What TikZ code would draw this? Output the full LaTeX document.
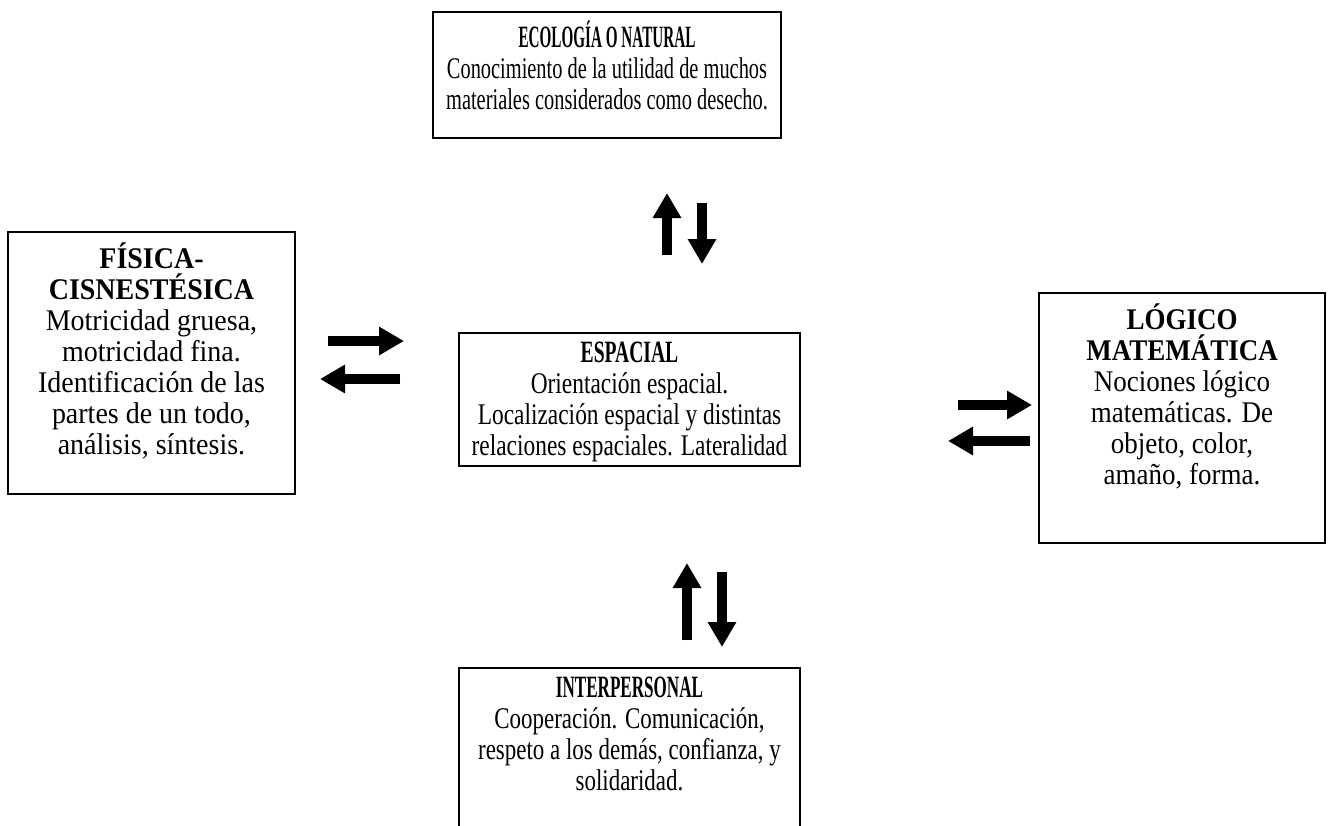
\documentclass[tikz,border=0pt]{standalone}
\usepackage{fontspec}
\setmainfont{Liberation Serif}
\newfontfamily\titfont{Liberation Serif Bold}[FakeStretch=0.72]
\newfontfamily\titfontb{Liberation Serif Bold}[FakeStretch=0.81]
\usetikzlibrary{arrows.meta,positioning}
\newcommand{\tit}[1]{{\fontsize{31}{31}\titfont #1}}
\newcommand{\titb}[1]{{\fontsize{31}{31}\titfontb #1}}

\begin{document}
\begin{tikzpicture}[line cap=butt,line join=miter,x=1pt,y=-1pt,
		marco/.style={draw=black,line width=1.6pt,inner sep=0pt},
		texto/.style={align=center,inner sep=0pt,anchor=north,transform shape,
			font=\fontsize{30}{31}\selectfont},
		flecha/.style={line width=10pt,-{Triangle[width=27pt,length=25pt]}}]
	\useasboundingbox (0,0) rectangle (1333,825);
	\clip (0,0) rectangle (1333,825);
	% cajas
	\node[marco,minimum width=348pt,minimum height=126pt] (ecologia) at (607,75) {};
	\node[marco,minimum width=287pt,minimum height=262pt] (fisica) at (151.5,363) {};
	\node[marco,minimum width=341pt,minimum height=133pt] (espacial) at (629.5,399.5) {};
	\node[marco,minimum width=286pt,minimum height=250pt] (logico) at (1182,418) {};
	\node[marco,minimum width=341pt,minimum height=200pt] (inter) at (629.5,768) {};
	% textos
	\node[texto,xscale=0.68] (ecologiatxt) at ([yshift=-10pt]ecologia.north)
		{\tit{ECOLOGÍA O NATURAL}\\Conocimiento de la utilidad de muchos\\materiales considerados como desecho.};
	\node[texto,xscale=0.933] (fisicatxt) at ([yshift=-11pt]fisica.north)
		{\textbf{FÍSICA-}\\\textbf{CISNESTÉSICA}\\Motricidad gruesa,\\motricidad fina.\\Identificación de las\\partes de un todo,\\análisis, síntesis.};
	\node[texto,xscale=0.78] (espacialtxt) at ([yshift=-10pt]espacial.north)
		{\titb{ESPACIAL}\\Orientación espacial.\\Localización espacial y distintas\\relaciones espaciales. Lateralidad};
	\node[texto,xscale=0.9] (logicotxt) at ([yshift=-11pt]logico.north)
		{\textbf{LÓGICO}\\\textbf{MATEMÁTICA}\\Nociones lógico\\matemáticas. De\\objeto, color,\\amaño, forma.};
	\node[texto,xscale=0.765] (intertxt) at ([yshift=-10pt]inter.north)
		{\tit{INTERPERSONAL}\\Cooperación. Comunicación,\\respeto a los demás, confianza, y\\solidaridad.};
	% flechas
	\coordinate (a1) at (667,255); \coordinate (a2) at (667,193);
	\coordinate (b1) at (702,203); \coordinate (b2) at (702,264);
	\coordinate (c1) at (328,341); \coordinate (c2) at (404,341);
	\coordinate (d1) at (400,379); \coordinate (d2) at (320,379);
	\coordinate (e1) at (958,405); \coordinate (e2) at (1032,405);
	\coordinate (f1) at (1030,441); \coordinate (f2) at (948,441);
	\coordinate (g1) at (687,640); \coordinate (g2) at (687,563);
	\coordinate (h1) at (722,572); \coordinate (h2) at (722,647);
	\draw[flecha] (a1) -- (a2);
	\draw[flecha] (b1) -- (b2);
	\draw[flecha] (c1) -- (c2);
	\draw[flecha] (d1) -- (d2);
	\draw[flecha] (e1) -- (e2);
	\draw[flecha] (f1) -- (f2);
	\draw[flecha] (g1) -- (g2);
	\draw[flecha] (h1) -- (h2);
\end{tikzpicture}
\end{document}
